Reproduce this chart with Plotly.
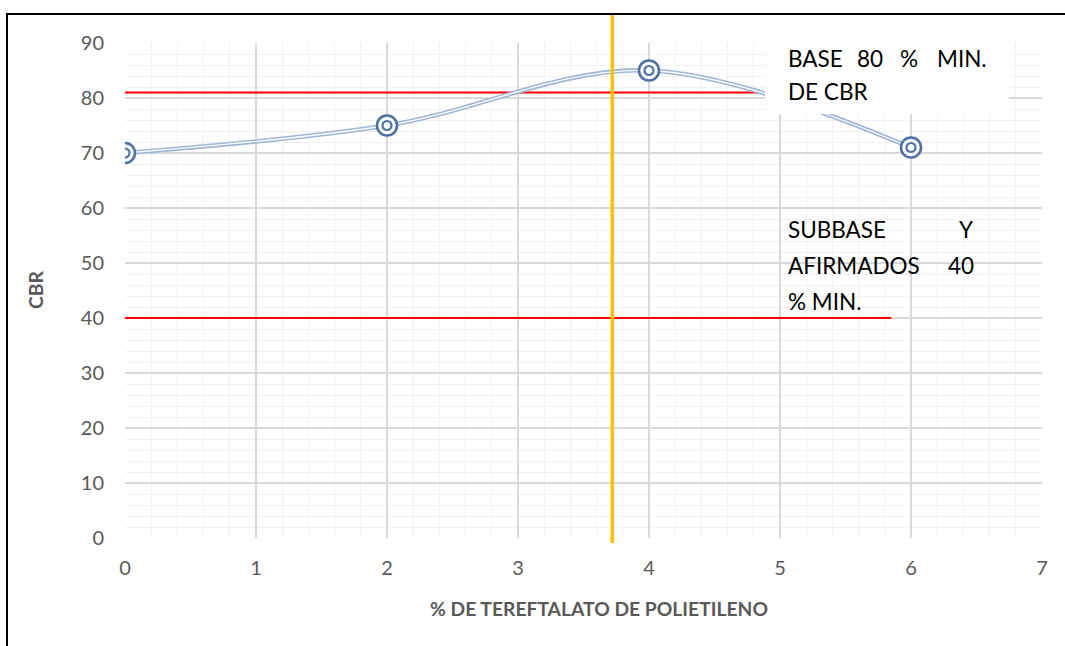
import plotly.graph_objects as go

# ---- data ----
pet_pct = [0, 2, 4, 6]
cbr = [70, 75, 85, 71]
x_ticks = [0, 1, 2, 3, 4, 5, 6, 7]
y_ticks = [0, 10, 20, 30, 40, 50, 60, 70, 80, 90]
base_line_y = 81
base_line_x = [0, 4.9]
subbase_line_y = 40
subbase_line_x = [0, 5.85]
vline_x = 3.72

W, H = 1065, 646
L, R, T, B = 125, 23, 43, 108
PW, PH = W - L - R, H - T - B
XMAX, YMAX = 7, 90

def px2x(px):
    return (px - L) / PW

def py2y(py):
    return (H - B - py) / PH

FONT = "Lato, 'Open Sans', sans-serif"
GRAY = "#595959"
MARK = "#4e71a3"

fig = go.Figure()

# reference lines (red)
fig.add_trace(go.Scatter(x=base_line_x, y=[base_line_y] * 2, mode="lines",
                         line=dict(color="#ff0000", width=2), hoverinfo="skip"))
fig.add_trace(go.Scatter(x=subbase_line_x, y=[subbase_line_y] * 2, mode="lines",
                         line=dict(color="#ff0000", width=2), hoverinfo="skip"))

# double-line smoothed curve
fig.add_trace(go.Scatter(x=pet_pct, y=cbr, mode="lines",
                         line=dict(color="#9fb6d8", width=4.5, shape="spline", smoothing=1.0),
                         hoverinfo="skip"))
fig.add_trace(go.Scatter(x=pet_pct, y=cbr, mode="lines",
                         line=dict(color="white", width=1.3, shape="spline", smoothing=1.0),
                         hoverinfo="skip"))
# bullseye markers
fig.add_trace(go.Scatter(x=pet_pct, y=cbr, mode="markers",
                         marker=dict(symbol="circle", size=20, color="white",
                                     line=dict(color=MARK, width=2.6)),
                         hoverinfo="skip"))
fig.add_trace(go.Scatter(x=pet_pct, y=cbr, mode="markers",
                         marker=dict(symbol="circle-open", size=9, color=MARK,
                                     line=dict(color=MARK, width=2.2)),
                         hoverinfo="skip"))

shapes = []
# orange vertical line
shapes.append(dict(type="line", xref="x", yref="paper", x0=vline_x, x1=vline_x,
                   y0=py2y(543), y1=py2y(14), line=dict(color="#ffc000", width=3.5),
                   layer="above"))
# white text box behind BASE label
shapes.append(dict(type="rect", xref="paper", yref="paper",
                   x0=px2x(765), x1=px2x(1009), y0=py2y(114), y1=py2y(37),
                   fillcolor="white", line=dict(width=0), layer="above"))
# black frame (top & left)
shapes.append(dict(type="line", xref="paper", yref="paper",
                   x0=px2x(6), x1=px2x(1070), y0=py2y(14), y1=py2y(14),
                   line=dict(color="black", width=2)))
shapes.append(dict(type="line", xref="paper", yref="paper",
                   x0=px2x(7), x1=px2x(7), y0=py2y(14), y1=py2y(660),
                   line=dict(color="black", width=2)))

annotations = []

def word(text, px, py, anchor="left"):
    annotations.append(dict(text=text, xref="paper", yref="paper",
                            x=px2x(px), y=py2y(py), xanchor=anchor, yanchor="middle",
                            showarrow=False, font=dict(family=FONT, size=22.5, color="black")))

word("BASE", 786, 59)
word("80", 870, 59, "center")
word("%", 909, 59, "center")
word("MIN.", 989, 59, "right")
word("DE CBR", 786, 92)
word("SUBBASE", 786, 229)
word("Y", 976, 229, "right")
word("AFIRMADOS", 786, 265)
word("40", 976, 265, "right")
word("% MIN.", 786, 301)

annotations.append(dict(text="<b>% DE TEREFTALATO DE POLIETILENO</b>", xref="paper", yref="paper",
                        x=px2x(599), y=py2y(608), xanchor="center", yanchor="middle",
                        showarrow=False, font=dict(family=FONT, size=19.3, color=GRAY)))
annotations.append(dict(text="<b>CBR</b>", xref="paper", yref="paper",
                        x=px2x(35), y=py2y(290), xanchor="center", yanchor="middle",
                        textangle=-90, showarrow=False,
                        font=dict(family=FONT, size=19.3, color=GRAY)))

fig.update_layout(
    width=W, height=H, margin=dict(l=L, r=R, t=T, b=B),
    paper_bgcolor="white", plot_bgcolor="white", showlegend=False,
    shapes=shapes, annotations=annotations,
    xaxis=dict(range=[0, XMAX], tickvals=x_ticks, ticktext=[str(v) for v in x_ticks],
               showgrid=True, gridcolor="#d9d9d9", gridwidth=1.5,
               minor=dict(dtick=0.2, showgrid=True, gridcolor="#f1f1f1", gridwidth=1.4),
               zeroline=False, showline=False, ticks="", ticklabelstandoff=16,
               automargin=False,
               tickfont=dict(family=FONT, size=20, color=GRAY), fixedrange=True),
    yaxis=dict(range=[0, YMAX], tickvals=y_ticks, ticktext=[str(v) for v in y_ticks],
               showgrid=True, gridcolor="#d9d9d9", gridwidth=1.5,
               minor=dict(dtick=2, showgrid=True, gridcolor="#f1f1f1", gridwidth=1.4),
               zeroline=False, showline=False, ticks="", ticklabelstandoff=20,
               automargin=False,
               tickfont=dict(family=FONT, size=20, color=GRAY), fixedrange=True),
)

fig.write_html("out.html", config={"displayModeBar": False},
               post_script="document.body.style.margin='0';")
